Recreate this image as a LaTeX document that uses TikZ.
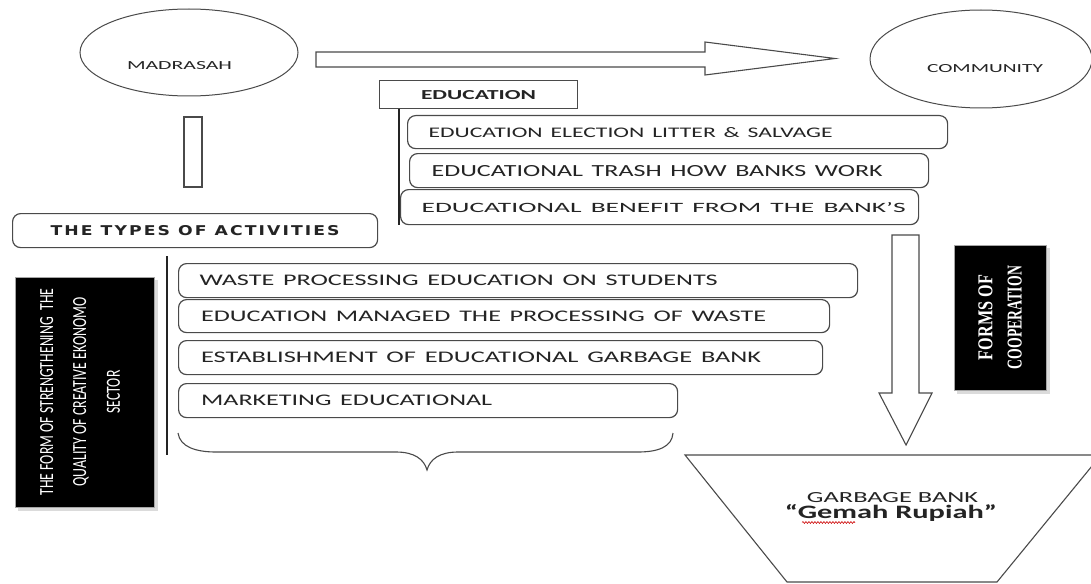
\documentclass[tikz,border=0pt]{standalone}
\usepackage{fontspec}
\setmainfont{Carlito}
\newfontfamily\serifb{Liberation Serif}
\newfontfamily\typesfont[LetterSpace=12]{DejaVu Sans}
\usepackage{graphicx}
\usetikzlibrary{shapes.geometric,decorations.pathmorphing}
\definecolor{ink}{HTML}{242424}
\definecolor{edge}{HTML}{4A4A4A}
\newcommand\fittxt[3]{\resizebox{#1pt}{#2pt}{#3}}
\begin{document}
\begin{tikzpicture}[x=1pt,y=-1pt,
  shapeline/.style={draw=edge, line width=1.1pt},
  itembox/.style={draw=edge, line width=1.2pt, rounded corners=8pt, inner xsep=21pt, inner ysep=0pt, align=left, text=ink, anchor=north west},
  plainbox/.style={draw=edge, line width=1.2pt, inner sep=0pt, text=ink, anchor=north west},
  blackbox/.style={fill=black, draw=black!35, line width=0.6pt, inner sep=0pt},
  whitetext/.style={text=white, rotate=90, align=center, inner sep=0pt},
  shadowc/.style={fill=black!14},
  vline/.style={draw=ink, line width=1.6pt},
  oval/.style={ellipse, draw=edge, line width=1pt, inner sep=0pt},
  lbl/.style={text=ink, inner sep=0pt}
]
\clip (0,0) rectangle (1091,583);
\fill[white] (0,0) rectangle (1091,583);

% ellipses
\node[oval, minimum width=218pt, minimum height=87pt] (madrasah) at (189,52.5) {};
\node[lbl, anchor=base] (madlbl) at (179.5,70) {\fittxt{105}{8}{MADRASAH}};
\node[oval, minimum width=222pt, minimum height=98pt] (community) at (981,59) {};
\node[lbl, anchor=base] (comlbl) at (985,73) {\fittxt{116}{8}{COMMUNITY}};

% horizontal block arrow
\draw[shapeline] (316,52) -- (705,52) -- (705,42) -- (835,58.5) -- (705,75) -- (705,67) -- (316,67) -- cycle;

% small vertical rectangle
\draw[shapeline] (184,117) rectangle (202,187);

% education
\node[plainbox, minimum width=198pt, minimum height=28pt] (edu) at (379,80) {\fittxt{115}{9}{\bfseries EDUCATION}};
\node[itembox, text width=498pt, minimum height=33pt] (e1) at (407,115) {\noindent\fittxt{404}{10}{EDUCATION ELECTION LITTER \& SALVAGE}};
\node[itembox, text width=475pt, minimum height=34pt, inner xsep=22pt] (e2) at (409,153) {\noindent\fittxt{451}{11}{EDUCATIONAL TRASH HOW BANKS WORK}};
\node[itembox, text width=476pt, minimum height=35pt] (e3) at (400,189) {\noindent\fittxt{484}{10}{EDUCATIONAL BENEFIT FROM THE BANK'S}};
\coordinate (eduline) at ([xshift=20pt]edu.south west);
\draw[vline] (eduline) -- (eduline |- e3.south);

% types of activities
\node[plainbox, rounded corners=8pt, minimum width=365pt, minimum height=34pt] (types) at (12,213) {\fittxt{289}{10}{\typesfont\bfseries THE TYPES OF ACTIVITIES}};

\coordinate (actlinetop) at (167,256);
\coordinate (actlinebot) at (167,455);
\draw[vline] (actlinetop) -- (actlinebot);

\node[itembox, text width=637pt, minimum height=34pt] (a1) at (178,263) {\noindent\fittxt{518}{10.5}{WASTE PROCESSING EDUCATION ON STUDENTS}};
\node[itembox, text width=606pt, minimum height=33pt, inner xsep=22.5pt] (a2) at (178,299) {\noindent\fittxt{565}{10.5}{EDUCATION MANAGED THE PROCESSING OF WASTE}};
\node[itembox, text width=599pt, minimum height=34pt, inner xsep=22.5pt] (a3) at (178,340) {\noindent\fittxt{560}{10.5}{ESTABLISHMENT OF EDUCATIONAL GARBAGE BANK}};
\node[itembox, text width=454pt, minimum height=34pt, inner xsep=22.5pt] (a4) at (178,383) {\noindent\fittxt{291}{10.5}{MARKETING EDUCATIONAL}};

% brace
\draw[draw=edge, line width=1.1pt] (178,433) .. controls (180,447) and (196,452) .. (216,452)
  -- (396,452) .. controls (414,452) and (424,459) .. (427,470)
  .. controls (430,459) and (440,452) .. (458,452)
  -- (638,452) .. controls (658,452) and (672,447) .. (673,433);

% left black box
\fill[shadowc] (18,280) rectangle (158,511);
\node[blackbox, minimum width=139pt, minimum height=230pt] (form) at (84.5,392) {};
\node[whitetext] (formtxt) at (80,392)
  {\fittxt{207}{13}{THE FORM OF STRENGTHENING\ \ THE}\\[19pt]
   \fittxt{189}{13}{QUALITY OF CREATIVE EKONOMO}\\[17pt]
   \fittxt{43}{13}{SECTOR}};

% down block arrow
\draw[shapeline] (892,235) -- (919,235) -- (919,393) -- (932,393) -- (906,445) -- (879,393) -- (892,393) -- cycle;

% forms of cooperation
\fill[shadowc] (957,248) rectangle (1050,394);
\node[blackbox, minimum width=92pt, minimum height=145pt] (forms) at (1000,317.5) {};
\node[whitetext] (formstxt) at (1000,317.5)
  {\fittxt{85}{14}{\serifb\bfseries FORMS OF}\\[14pt]
   \fittxt{103}{14}{\serifb\bfseries COOPERATION}};

% garbage bank trapezoid
\draw[shapeline] (685,455) -- (1101,455) -- (997,582) -- (787,582) -- cycle;
\node[lbl, anchor=base] (gb) at (892.5,502) {\fittxt{171}{10}{GARBAGE BANK}};
\node[lbl, anchor=base] (gr) at (891,518.5) {\fittxt{212}{14}{\bfseries “Gemah Rupiah”}};
\draw[red!80!black, line width=0.6pt, decorate, decoration={snake, amplitude=0.9pt, segment length=3pt}] (802,522.5) -- (855,522.5);
\end{tikzpicture}
\end{document}
